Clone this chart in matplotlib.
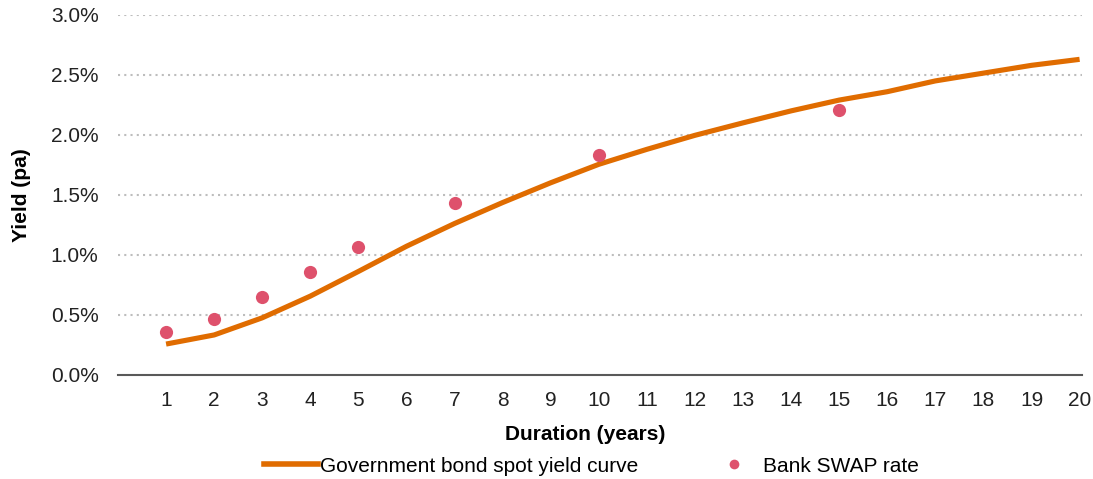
import matplotlib
matplotlib.use("Agg")
import matplotlib.pyplot as plt
from matplotlib.ticker import FuncFormatter
from matplotlib.lines import Line2D

# ---- data ----
durations = list(range(1, 21))
govt_curve = [0.254, 0.33, 0.473, 0.654, 0.86, 1.07, 1.26, 1.435, 1.60, 1.754,
              1.879, 1.996, 2.10, 2.20, 2.29, 2.36, 2.45, 2.515, 2.58, 2.63]

swap_years = [1, 2, 3, 4, 5, 7, 10, 15]
swap_rates = [0.357, 0.46, 0.643, 0.857, 1.06, 1.435, 1.83, 2.21]

y_ticks = [0.0, 0.5, 1.0, 1.5, 2.0, 2.5, 3.0]

ORANGE = "#E06C00"
PINK = "#DE516C"

plt.rcParams["font.family"] = ["Liberation Sans", "DejaVu Sans"]

fig = plt.figure(figsize=(10.93, 4.79), dpi=100)
ax = fig.add_axes([118 / 1093, 1 - 374.5 / 479, 964 / 1093, 359.5 / 479])

ax.plot(durations, govt_curve, color=ORANGE, lw=3.7, solid_capstyle="butt", zorder=3)
ax.plot(swap_years, swap_rates, "o", color=PINK, ms=9.5, mec="none", zorder=4)

ax.set_xlim(0, 20.05)
ax.set_ylim(0, 3.0)
ax.set_xticks(durations)
ax.set_yticks(y_ticks)
ax.yaxis.set_major_formatter(FuncFormatter(lambda v, p: f"{v:.1f}%"))
ax.tick_params(axis="both", length=0, labelsize=15, colors="#222222")
ax.tick_params(axis="x", pad=12)
ax.tick_params(axis="y", pad=14)

for v in y_ticks[1:]:
    ax.axhline(v, color="#BDBDBD", lw=1.5, ls=(0, (1, 2)), zorder=1)

for s in ["top", "right", "left"]:
    ax.spines[s].set_visible(False)
ax.spines["bottom"].set_color("#595959")
ax.spines["bottom"].set_linewidth(1.5)

ax.set_xlabel("Duration (years)", fontsize=15, fontweight="bold", labelpad=13)
ax.xaxis.set_label_coords(0.485, -0.14)
ax.set_ylabel("Yield (pa)", fontsize=15, fontweight="bold", labelpad=14)

handles = [
    Line2D([], [], color=ORANGE, lw=4),
    Line2D([], [], marker="o", ls="none", color=PINK, ms=7, mec="none"),
]
fig.legend(handles, ["Government bond spot yield curve", "Bank SWAP rate"],
           loc="center", bbox_to_anchor=(0.541, 1 - 466 / 479), ncol=2,
           frameon=False, fontsize=15, handlelength=2.6, handletextpad=0.1,
           columnspacing=3.3)

fig.savefig("out.png", dpi=100)
